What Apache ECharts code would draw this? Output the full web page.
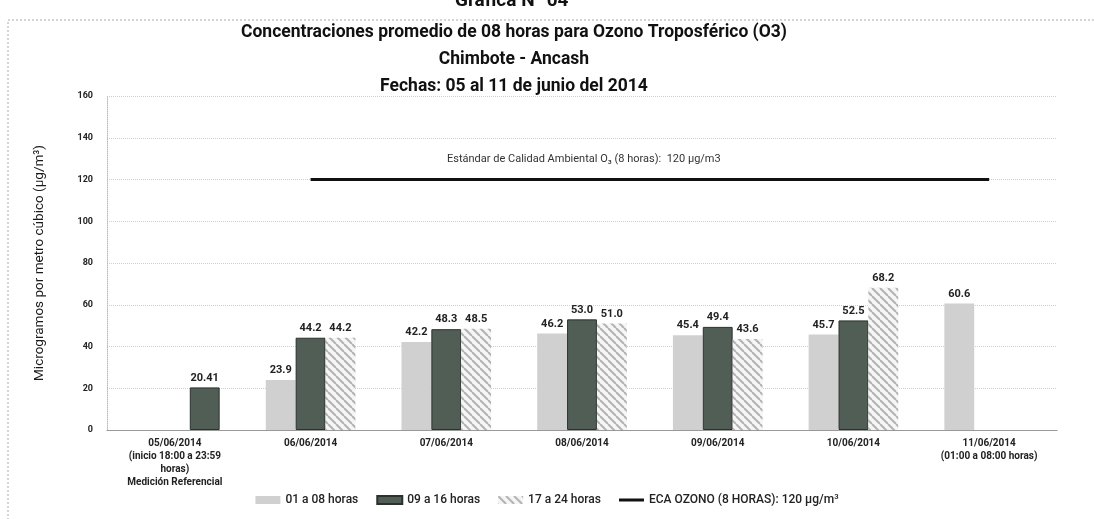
<!DOCTYPE html>
<html>
<head>
<meta charset="utf-8">
<script src="https://cdn.jsdelivr.net/npm/echarts@6/dist/echarts.min.js"></script>
<style>
  html, body { margin: 0; padding: 0; background: #fff; }
  #cc { width: 1094px; height: 519px; }
</style>
</head>
<body>
<div id="cc"></div>
<script>
var categories = [
    '05/06/2014\n(inicio 18:00 a 23:59\nhoras)\nMedición Referencial',
    '06/06/2014',
    '07/06/2014',
    '08/06/2014',
    '09/06/2014',
    '10/06/2014',
    '11/06/2014\n(01:00 a 08:00 horas)'
];
var seriesNames = ['01 a 08 horas', '09 a 16 horas', '17 a 24 horas', 'ECA OZONO (8 HORAS): 120 µg/m³'];
var horas01a08 = [null, 23.9, 42.2, 46.2, 45.4, 45.7, 60.6];
var horas09a16 = [null, 44.2, 48.3, 53.0, 49.4, 52.5, null];
var horas17a24 = [20.41, 44.2, 48.5, 51.0, 43.6, 68.2, null];
var ecaOzono = [null, 120, 120, 120, 120, 120, 120];
var yTicks = { min: 0, max: 160, interval: 20 };

var FONT = 'Roboto, "Noto Sans", sans-serif';
var DARK = '#505e56';

// diagonal hatch for the 17-24 h bars
var hatch = document.createElement('canvas');
hatch.width = 8; hatch.height = 8;
var hc = hatch.getContext('2d');
hc.fillStyle = '#f6f6f6';
hc.fillRect(0, 0, 8, 8);
hc.strokeStyle = '#b3b3b3';
hc.lineWidth = 2;
[-8, 0, 8].forEach(function (c) {
    hc.beginPath();
    hc.moveTo(c, 0);
    hc.lineTo(c + 8, 8);
    hc.stroke();
});

function fmt(p) {
    var v = p.value;
    if (v == null) return '';
    return Math.round(v * 10) === v * 10 ? v.toFixed(1) : String(v);
}

var barLabel = {
    show: true,
    position: 'top',
    distance: 4,
    formatter: fmt,
    fontFamily: FONT,
    fontSize: 11,
    fontWeight: 'bold',
    color: '#222'
};

var chart = echarts.init(document.getElementById('cc'));

var option = {
    backgroundColor: '#fff',
    animation: false,
    title: {
        text: 'Concentraciones promedio de 08 horas para Ozono Troposférico (O3)\nChimbote - Ancash\nFechas: 05 al 11 de junio del 2014',
        left: 509,
        textAlign: 'center',
        top: 14,
        textStyle: {
            fontFamily: FONT,
            fontSize: 17.5,
            fontWeight: 'bold',
            color: '#111',
            lineHeight: 27
        }
    },
    graphic: [
        {
            type: 'rect',
            shape: { x: 8, y: 20, width: 1100, height: 520 },
            style: { fill: 'none', stroke: '#aaa', lineWidth: 1, lineDash: [2, 2] },
            silent: true
        },
        {
            type: 'text',
            left: 455,
            top: -8,
            style: { text: 'Gráfica N° 04', font: 'bold 19px ' + FONT, fill: '#111' }
        },
        {
            type: 'text',
            left: 447,
            top: 154,
            style: {
                text: 'Estándar de Calidad Ambiental O₃ (8 horas):  120 µg/m3',
                font: '11px ' + FONT,
                fill: '#333'
            }
        }
    ],
    legend: {
        bottom: 8,
        left: 'center',
        itemWidth: 25,
        itemHeight: 8,
        itemGap: 18,
        symbolKeepAspect: true,
        textStyle: { fontFamily: FONT, fontSize: 12, color: '#222', fontWeight: 500 },
        data: [
            { name: seriesNames[0], icon: 'rect' },
            { name: seriesNames[1], icon: 'rect' },
            { name: seriesNames[2], icon: 'rect' },
            { name: seriesNames[3], icon: 'path://M0,0 L25,0 L25,3 L0,3 Z' }
        ]
    },
    grid: {
        left: 107,
        right: 37,
        top: 96,
        bottom: 89
    },
    xAxis: {
        type: 'category',
        data: categories,
        axisTick: { show: false },
        axisLine: { lineStyle: { color: '#999' } },
        axisLabel: {
            interval: 0,
            margin: 7,
            fontFamily: FONT,
            fontSize: 10,
            fontWeight: 'bold',
            color: '#222',
            lineHeight: 13
        }
    },
    yAxis: {
        type: 'value',
        min: yTicks.min,
        max: yTicks.max,
        interval: yTicks.interval,
        name: 'Microgramos por metro cúbico (µg/m³)',
        nameLocation: 'middle',
        nameGap: 60,
        nameTextStyle: { fontFamily: FONT, fontSize: 13.5, color: '#1a1a1a' },
        axisLine: { show: true, lineStyle: { color: '#bbb', type: 'dotted' } },
        axisTick: { show: false },
        axisLabel: {
            margin: 14,
            fontFamily: FONT,
            fontSize: 9,
            fontWeight: 'bold',
            color: '#222'
        },
        splitLine: { lineStyle: { color: '#cfcfcf', type: 'dotted' } }
    },
    series: [
        {
            name: seriesNames[0],
            type: 'bar',
            barGap: '0%',
            barCategoryGap: '34%',
            data: horas01a08,
            itemStyle: { color: '#d0d0d0' },
            label: barLabel
        },
        {
            name: seriesNames[1],
            type: 'bar',
            data: horas09a16,
            itemStyle: { color: DARK, borderColor: '#2b312d', borderWidth: 1 },
            label: barLabel
        },
        {
            name: seriesNames[2],
            type: 'bar',
            data: horas17a24.map(function (v, i) {
                // the 05/06 reference measurement is drawn in the dark fill
                return i === 0 ? { value: v, itemStyle: { color: DARK, borderColor: '#2b312d', borderWidth: 1 } } : v;
            }),
            itemStyle: { color: { image: hatch, repeat: 'repeat' } },
            label: barLabel
        },
        {
            name: seriesNames[3],
            type: 'line',
            data: ecaOzono,
            symbol: 'none',
            lineStyle: { color: '#111', width: 3 },
            itemStyle: { color: '#111' },
            z: 5
        }
    ]
};

chart.setOption(option);
</script>
</body>
</html>
